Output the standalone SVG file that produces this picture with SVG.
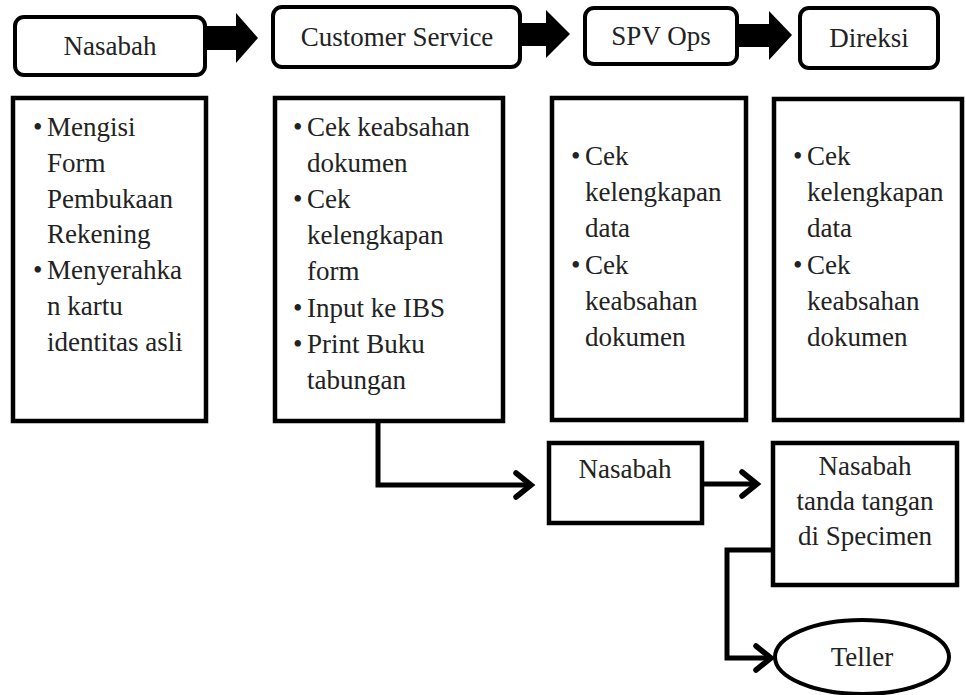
<svg xmlns="http://www.w3.org/2000/svg" width="966" height="695" viewBox="0 0 966 695">
<style>
.rbox{fill:#fff;stroke:#000;stroke-width:4}
.box{fill:#fff;stroke:#000;stroke-width:4.5}
.t{font-size:27px;fill:#222}
.c{text-anchor:middle}
.blk{fill:#000}
.ln{fill:none;stroke:#000;stroke-width:5;stroke-linejoin:miter}
.hd{fill:none;stroke:#000;stroke-width:5.5;stroke-linecap:round;stroke-linejoin:miter}
</style>

<g id="top-nasabah">
<rect class="rbox" x="15" y="17" width="190" height="58" rx="9"/>
<text class="t c" font-family="Liberation Serif" x="110" y="55">Nasabah</text>
</g>
<g id="top-cs">
<rect class="rbox" x="273" y="7" width="247" height="60" rx="9"/>
<text class="t c" font-family="Liberation Serif" x="397" y="46">Customer Service</text>
</g>
<g id="top-spv">
<rect class="rbox" x="585" y="8" width="152" height="56" rx="9"/>
<text class="t c" font-family="Liberation Serif" x="661" y="45">SPV Ops</text>
</g>
<g id="top-direksi">
<rect class="rbox" x="800" y="8" width="138" height="60" rx="9"/>
<text class="t c" font-family="Liberation Serif" x="869" y="47">Direksi</text>
</g>

<g id="list-nasabah">
<rect class="box" x="13" y="98" width="193" height="323"/>
<text class="t" font-family="Liberation Serif" x="33" y="136">&#8226;</text>
<text class="t" font-family="Liberation Serif" x="47" y="136">Mengisi</text>
<text class="t" font-family="Liberation Serif" x="47" y="172">Form</text>
<text class="t" font-family="Liberation Serif" x="47" y="208">Pembukaan</text>
<text class="t" font-family="Liberation Serif" x="47" y="243">Rekening</text>
<text class="t" font-family="Liberation Serif" x="33" y="279">&#8226;</text>
<text class="t" font-family="Liberation Serif" x="47" y="279">Menyerahka</text>
<text class="t" font-family="Liberation Serif" x="47" y="315">n kartu</text>
<text class="t" font-family="Liberation Serif" x="47" y="351">identitas asli</text>
</g>
<g id="list-cs">
<rect class="box" x="275" y="98" width="228" height="323"/>
<text class="t" font-family="Liberation Serif" x="293" y="136">&#8226;</text>
<text class="t" font-family="Liberation Serif" x="307" y="136">Cek keabsahan</text>
<text class="t" font-family="Liberation Serif" x="307" y="172">dokumen</text>
<text class="t" font-family="Liberation Serif" x="293" y="208">&#8226;</text>
<text class="t" font-family="Liberation Serif" x="307" y="208">Cek</text>
<text class="t" font-family="Liberation Serif" x="307" y="244">kelengkapan</text>
<text class="t" font-family="Liberation Serif" x="307" y="280">form</text>
<text class="t" font-family="Liberation Serif" x="293" y="317">&#8226;</text>
<text class="t" font-family="Liberation Serif" x="307" y="317">Input ke IBS</text>
<text class="t" font-family="Liberation Serif" x="293" y="353">&#8226;</text>
<text class="t" font-family="Liberation Serif" x="307" y="353">Print Buku</text>
<text class="t" font-family="Liberation Serif" x="307" y="389">tabungan</text>
</g>
<g id="list-spv">
<rect class="box" x="552" y="98" width="194" height="322"/>
<text class="t" font-family="Liberation Serif" x="571" y="165">&#8226;</text>
<text class="t" font-family="Liberation Serif" x="585" y="165">Cek</text>
<text class="t" font-family="Liberation Serif" x="585" y="201">kelengkapan</text>
<text class="t" font-family="Liberation Serif" x="585" y="237">data</text>
<text class="t" font-family="Liberation Serif" x="571" y="274">&#8226;</text>
<text class="t" font-family="Liberation Serif" x="585" y="274">Cek</text>
<text class="t" font-family="Liberation Serif" x="585" y="310">keabsahan</text>
<text class="t" font-family="Liberation Serif" x="585" y="346">dokumen</text>
</g>
<g id="list-direksi">
<rect class="box" x="774" y="99" width="188" height="321"/>
<text class="t" font-family="Liberation Serif" x="793" y="165">&#8226;</text>
<text class="t" font-family="Liberation Serif" x="807" y="165">Cek</text>
<text class="t" font-family="Liberation Serif" x="807" y="201">kelengkapan</text>
<text class="t" font-family="Liberation Serif" x="807" y="237">data</text>
<text class="t" font-family="Liberation Serif" x="793" y="274">&#8226;</text>
<text class="t" font-family="Liberation Serif" x="807" y="274">Cek</text>
<text class="t" font-family="Liberation Serif" x="807" y="310">keabsahan</text>
<text class="t" font-family="Liberation Serif" x="807" y="346">dokumen</text>
</g>

<g id="nasabah2">
<rect class="box" x="549" y="443" width="153" height="80"/>
<text class="t c" font-family="Liberation Serif" x="625" y="478">Nasabah</text>
</g>
<g id="specimen">
<rect class="box" x="773" y="443" width="184" height="142"/>
<text class="t c" font-family="Liberation Serif" x="865" y="475">Nasabah</text>
<text class="t c" font-family="Liberation Serif" x="865" y="510">tanda tangan</text>
<text class="t c" font-family="Liberation Serif" x="865" y="545">di Specimen</text>
</g>
<g id="teller">
<ellipse cx="862" cy="657" rx="87" ry="37" fill="#fff" stroke="#000" stroke-width="4"/>
<text class="t c" font-family="Liberation Serif" x="862" y="666">Teller</text>
</g>

<g id="connectors">
<polygon class="blk" points="205,26 236,26 236,13 258,38 236,63 236,50 205,50"/>
<polygon class="blk" points="520,23 546,23 546,10 570,34 546,58 546,46 520,46"/>
<polygon class="blk" points="737,24 769,24 769,11 792,35 769,60 769,47 737,47"/>
<path class="ln" d="M378,421 L378,485 L530,485"/>
<path class="hd" d="M516,473 L531,485 L516,497"/>
<path class="ln" d="M702,484 L756,484"/>
<path class="hd" d="M742,472 L757,484 L742,496"/>
<path class="ln" d="M773,550 L727,550 L727,658 L770,658"/>
<path class="hd" d="M756,646 L771,658 L756,670"/>
</g>
</svg>
